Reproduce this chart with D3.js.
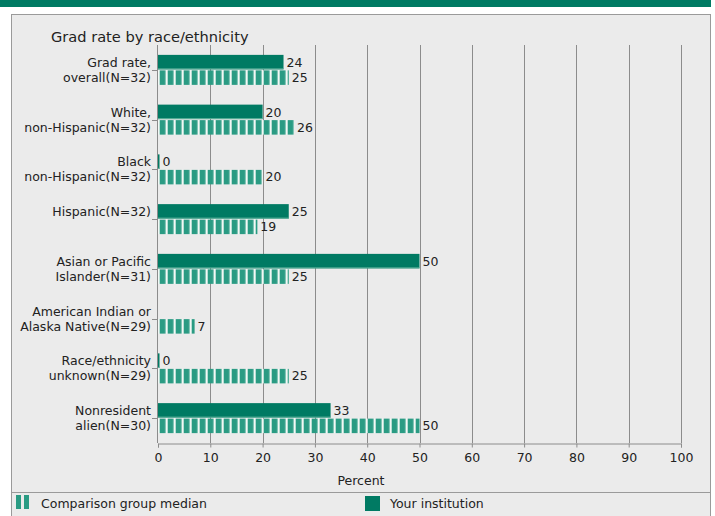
<!DOCTYPE html>
<html><head><meta charset="utf-8">
<script src="https://cdn.jsdelivr.net/npm/d3@7"></script>
<style>
html,body{margin:0;padding:0;background:#fff;}
svg{display:block;font-family:"DejaVu Sans",Verdana,sans-serif;}
</style></head>
<body>
<script>
const categories = [
  ["Grad rate,", "overall(N=32)"],
  ["White,", "non-Hispanic(N=32)"],
  ["Black", "non-Hispanic(N=32)"],
  ["Hispanic(N=32)"],
  ["Asian or Pacific", "Islander(N=31)"],
  ["American Indian or", "Alaska Native(N=29)"],
  ["Race/ethnicity", "unknown(N=29)"],
  ["Nonresident", "alien(N=30)"]
];
const institution = [24, 20, 0, 25, 50, null, 0, 33];
const comparison = [25, 26, 20, 19, 25, 7, 25, 50];
const xTicks = [0, 10, 20, 30, 40, 50, 60, 70, 80, 90, 100];
const title = "Grad rate by race/ethnicity";
const xTitle = "Percent";
const legendLabels = ["Comparison group median", "Your institution"];

const W = 715, H = 516;
const FS = 12.5;
const darkGreen = "#007a63", stripeGreen = "#2a9b83", gapColor = "#f2f8f5";
const svg = d3.select("body").append("svg").attr("width", W).attr("height", H);

const defs = svg.append("defs");
const pat = defs.append("pattern").attr("id", "stripes")
  .attr("patternUnits", "userSpaceOnUse").attr("width", 8).attr("height", 20)
  .attr("x", 159.7);
pat.append("rect").attr("width", 8).attr("height", 20).attr("fill", gapColor);
pat.append("rect").attr("x", 0).attr("width", 5.8).attr("height", 20).attr("fill", stripeGreen);

// top band
svg.append("rect").attr("x", 0).attr("y", 0).attr("width", 711).attr("height", 7).attr("fill", "#007a63");
// panel
svg.append("rect").attr("x", 11.5).attr("y", 14.5).attr("width", 699).attr("height", 510)
  .attr("fill", "#ebebeb").attr("stroke", "#9a9a9a").attr("stroke-width", 1);

const x = d3.scaleLinear().domain([0, 100]).range([158, 681]);
const y = d3.scaleBand().domain(d3.range(categories.length)).range([45, 443]);

// title
svg.append("text").attr("x", 51).attr("y", 42).attr("font-size", 14.6).attr("fill", "#222").text(title);

// grid
svg.append("g").selectAll("line").data(xTicks.slice(1)).join("line")
  .attr("x1", d => Math.round(x(d)) + 0.5).attr("x2", d => Math.round(x(d)) + 0.5)
  .attr("y1", 45).attr("y2", 443).attr("stroke", "#8c8c8c").attr("stroke-width", 1);

// x axis
const xAxis = svg.append("g").attr("transform", "translate(0,443.5)")
  .call(d3.axisBottom(x).tickValues(xTicks).tickSize(4).tickPadding(6).tickFormat(d3.format("d")));
xAxis.select(".domain").attr("stroke", "#8c8c8c");
xAxis.selectAll(".tick line").attr("stroke", "#8c8c8c");
xAxis.selectAll(".tick text").attr("font-size", FS).attr("fill", "#222")
  .attr("font-family", "DejaVu Sans, Verdana, sans-serif");
svg.append("text").attr("x", 361).attr("y", 485).attr("text-anchor", "middle")
  .attr("font-size", FS).attr("fill", "#222").text(xTitle);

// y axis line
svg.append("line").attr("x1", 157.5).attr("x2", 157.5).attr("y1", 45).attr("y2", 443)
  .attr("stroke", "#8c8c8c");

const g = svg.append("g");
categories.forEach((lab, i) => {
  const c = y(i) + y.bandwidth() / 2;
  g.append("line").attr("x1", 152).attr("x2", 157).attr("y1", Math.round(c) + 0.5).attr("y2", Math.round(c) + 0.5)
    .attr("stroke", "#8c8c8c");
  const t = g.append("text").attr("text-anchor", "end").attr("font-size", FS).attr("fill", "#222");
  lab.forEach((l, j) => {
    t.append("tspan").attr("x", 151).attr("y", c - 3 + j * 15).text(l);
  });
  // institution bar
  const iv = institution[i];
  if (iv !== null) {
    const w = Math.max(x(iv) - x(0), 1.5);
    g.append("rect").attr("x", x(0)).attr("y", c - 15).attr("width", w).attr("height", 14.5)
      .attr("fill", darkGreen);
    g.append("rect").attr("x", x(0)).attr("y", c - 1.5).attr("width", w).attr("height", 1)
      .attr("fill", "#5fb39c");
    g.append("text").attr("x", x(0) + w + 3).attr("y", c - 3).attr("font-size", FS).attr("fill", "#222").text(iv);
  }
  const cv = comparison[i];
  g.append("rect").attr("x", x(0)).attr("y", c + 0.5).attr("width", x(cv) - x(0)).attr("height", 14.5)
    .attr("fill", "url(#stripes)");
  g.append("text").attr("x", x(cv) + 3).attr("y", c + 12).attr("font-size", FS).attr("fill", "#222").text(cv);
});

// legend
svg.append("line").attr("x1", 12).attr("x2", 710).attr("y1", 492.5).attr("y2", 492.5).attr("stroke", "#9a9a9a");
svg.append("rect").attr("x", 16).attr("y", 495).attr("width", 5).attr("height", 14).attr("fill", stripeGreen);
svg.append("rect").attr("x", 24).attr("y", 495).attr("width", 5).attr("height", 14).attr("fill", stripeGreen);
svg.append("text").attr("x", 41).attr("y", 508).attr("font-size", FS).attr("fill", "#222").text(legendLabels[0]);
svg.append("rect").attr("x", 365).attr("y", 496).attr("width", 15).attr("height", 15).attr("fill", darkGreen);
svg.append("text").attr("x", 390).attr("y", 508).attr("font-size", FS).attr("fill", "#222").text(legendLabels[1]);
</script>
</body></html>
